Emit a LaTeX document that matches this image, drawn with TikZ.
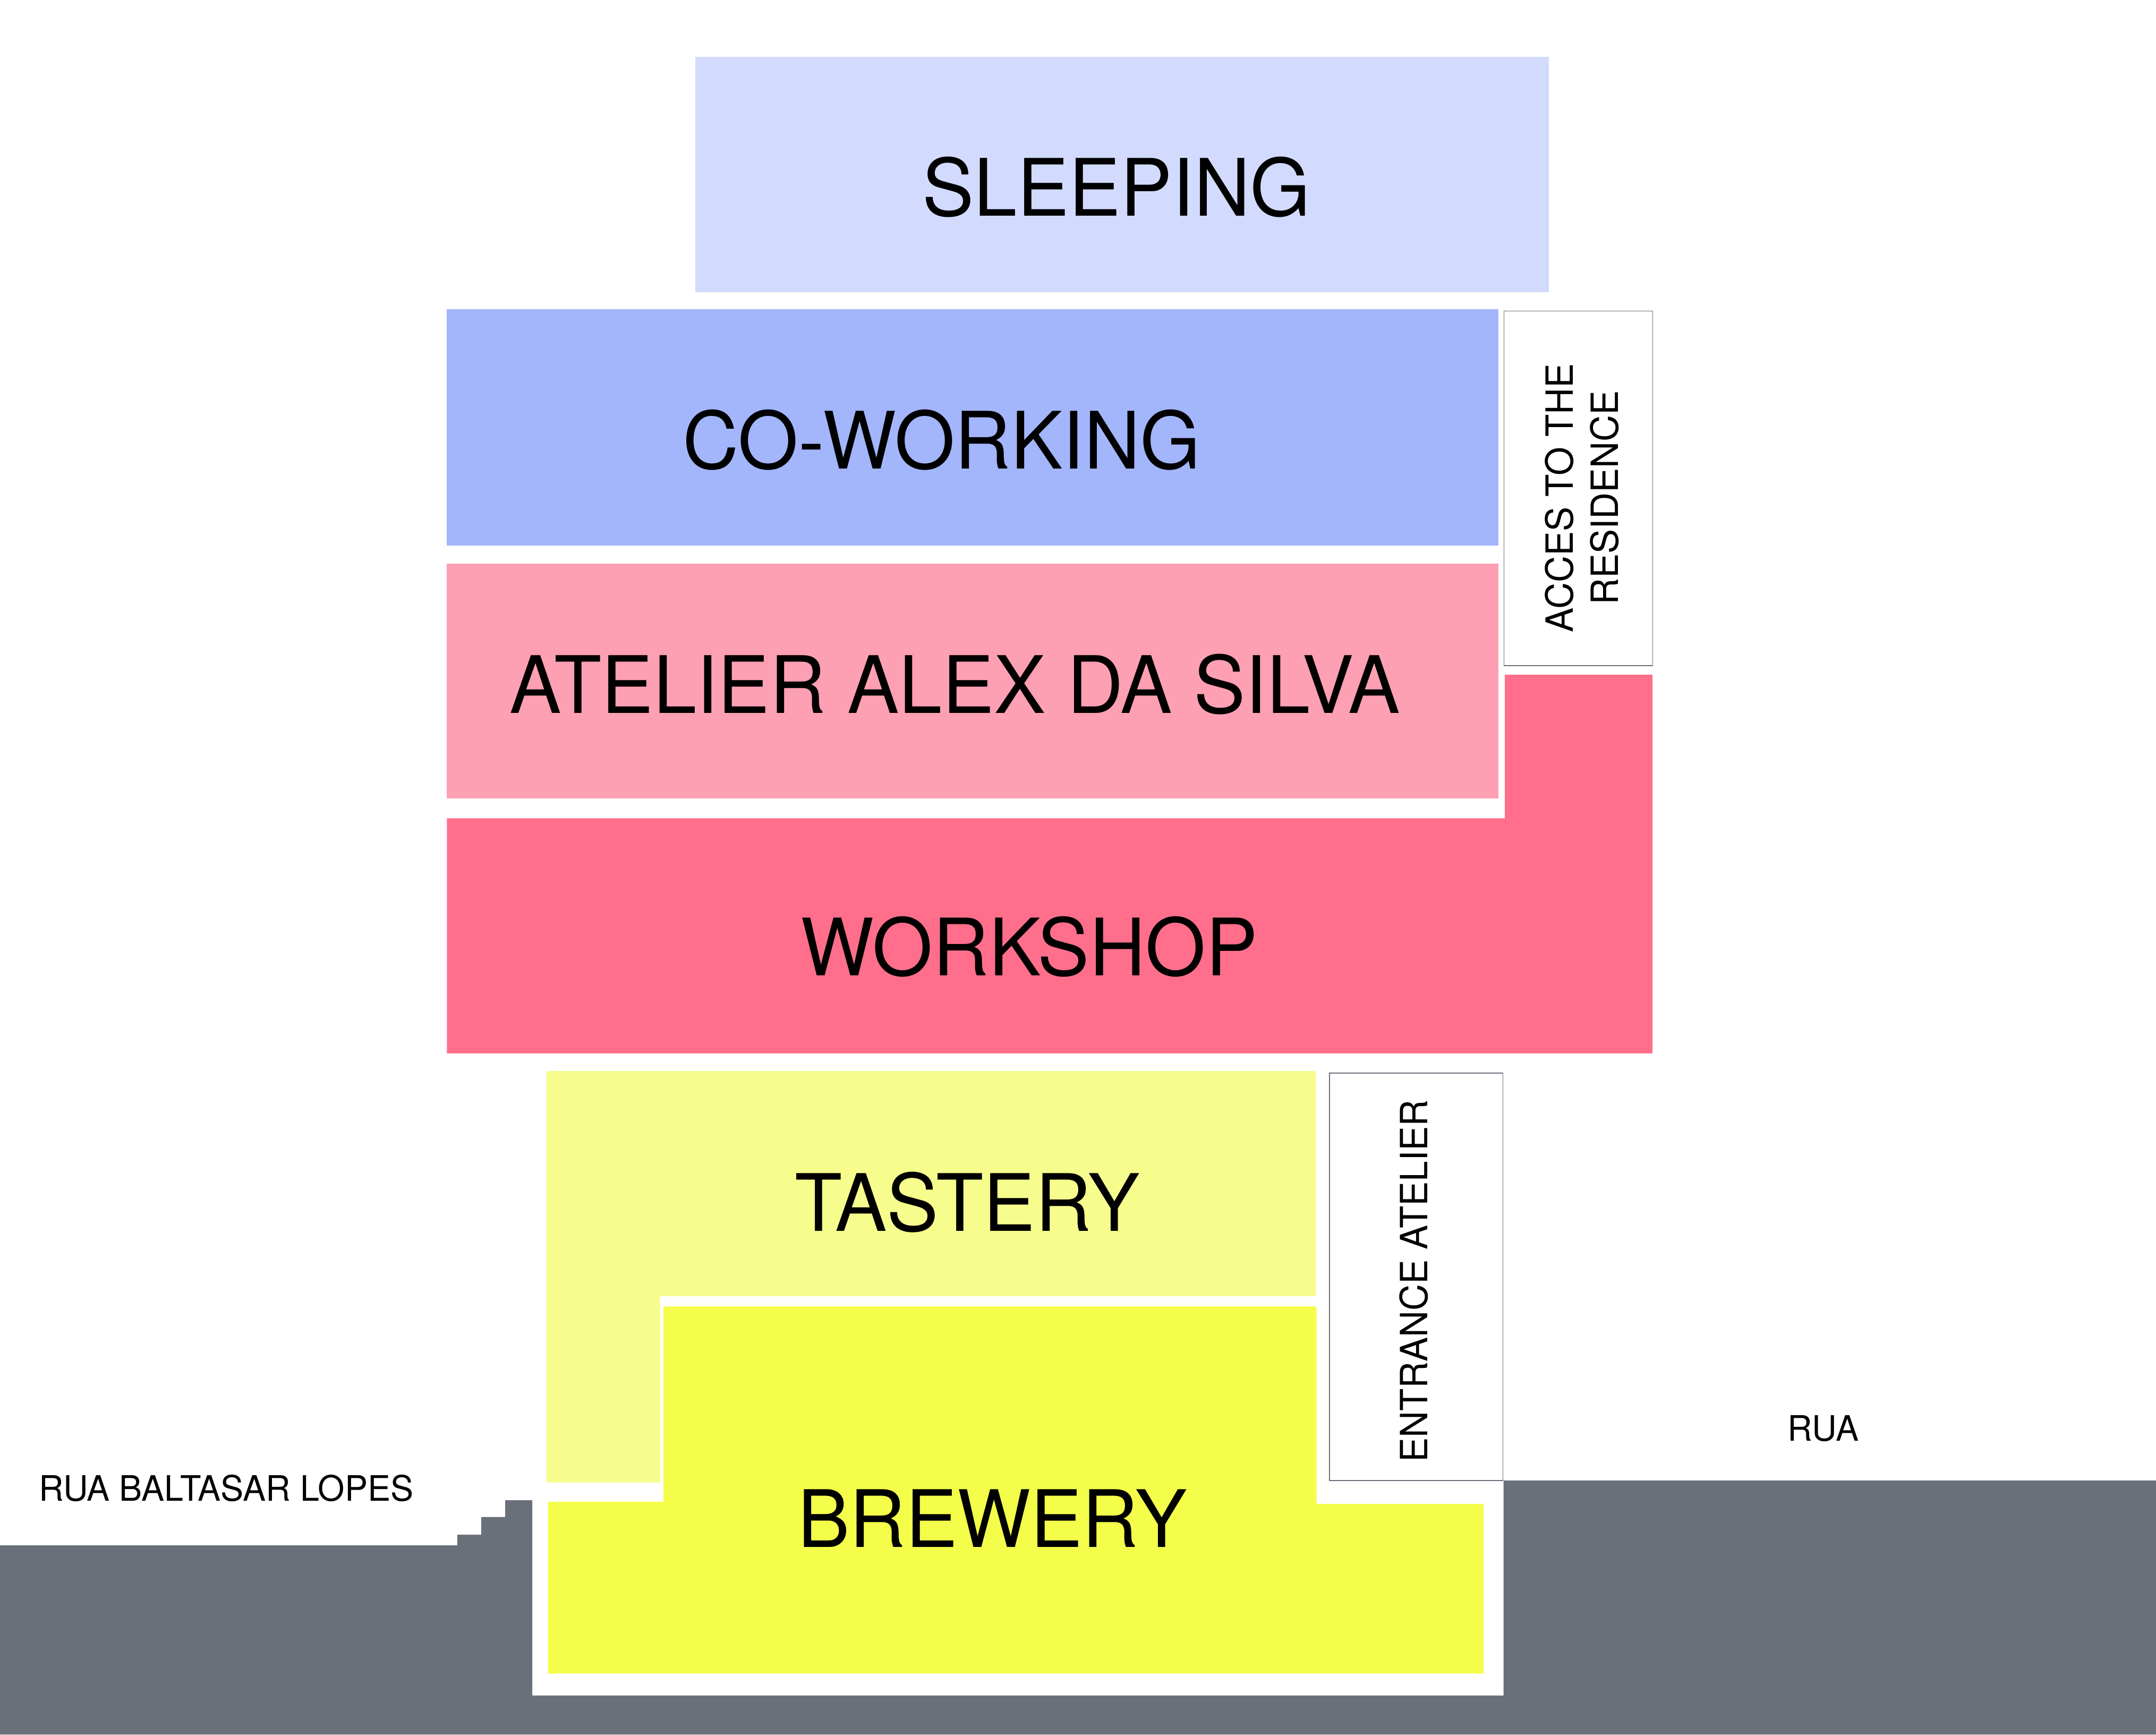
\documentclass[tikz,border=0pt]{standalone}
\usepackage{fontspec}
\usepackage{tikz}
\usetikzlibrary{positioning}

\newfontfamily\roomfont[FakeStretch=0.98]{TeX Gyre Heros}

\definecolor{sleepblue}{HTML}{D2DBFE}
\definecolor{workblue}{HTML}{A3B6FC}
\definecolor{atelierpink}{HTML}{FDA0B3}
\definecolor{shoppink}{HTML}{FF6F8C}
\definecolor{tasteyellow}{HTML}{F6FD8D}
\definecolor{brewyellow}{HTML}{F4FE4A}
\definecolor{groundgrey}{HTML}{6A707A}

\begin{document}
\begin{tikzpicture}[x=1pt,y=-1pt,
  sidebox/.style={draw=groundgrey,line width=0.6pt,fill=white},
  biglabel/.style={inner sep=0pt,anchor=base,font=\roomfont\fontsize{57.6}{69}\selectfont},
  streetlabel/.style={inner sep=0pt,anchor=base,font=\roomfont\fontsize{25.5}{30}\selectfont},
  sidelabel/.style={inner sep=0pt,rotate=90,align=center,font=\roomfont\fontsize{27.3}{33}\selectfont}]

\useasboundingbox (0,0) rectangle (1568,1261.3);

% ground and steps
\fill[groundgrey] (0,1123.7) -- (332.6,1123.7) -- (332.6,1116) -- (350,1116) -- (350,1103.1)
  -- (367.4,1103.1) -- (367.4,1090.9) -- (387.1,1090.9) -- (387.1,1232.9) -- (1093.5,1232.9)
  -- (1093.5,1076.6) -- (1568,1076.6) -- (1568,1261.3) -- (0,1261.3) -- cycle;

% rooms
\fill[sleepblue] (505.7,41.3) rectangle (1126.5,212.4);
\fill[workblue] (324.9,224.8) rectangle (1089.8,396.7);
\fill[atelierpink] (325,410) rectangle (1089.8,580.5);
\fill[shoppink] (1094.4,490.6) -- (1201.8,490.6) -- (1201.8,766) -- (325,766) -- (325,595)
  -- (1094.4,595) -- cycle;
\fill[tasteyellow] (397.3,778.8) -- (957,778.8) -- (957,942.5) -- (480,942.5) -- (480,1078)
  -- (397.3,1078) -- cycle;
\fill[brewyellow] (482.5,950) -- (957.5,950) -- (957.5,1093.6) -- (1079,1093.6) -- (1079,1217)
  -- (398.5,1217) -- (398.5,1092) -- (482.5,1092) -- cycle;

\draw[sidebox] (1093.8,226.1) rectangle (1202,484);
\draw[sidebox] (967,780.3) rectangle (1093,1076.6);

% labels
\node[biglabel] (sleeping) at (811.9,157.2) {SLEEPING};
\node[biglabel] (coworking) at (684.9,341) {CO-WORKING};
\node[biglabel] (atelier) at (694.5,518.6) {ATELIER ALEX DA SILVA};
\node[biglabel] (workshop) at (748.5,709.3) {WORKSHOP};
\node[biglabel] (tastery) at (703.5,895.4) {TASTERY};
\node[biglabel] (brewery) at (721.7,1125) {BREWERY};

\node[sidelabel,anchor=center] (acces) at (1150.4,362) {ACCES TO THE\\RESIDENCE};
\node[sidelabel,anchor=base] (entrance) at (1038,931.5) {ENTRANCE ATELIER};

\node[streetlabel,anchor=base west] (baltasar) at (28.2,1091.5) {RUA BALTASAR LOPES};
\node[streetlabel] (rua) at (1326,1048) {RUA};
\end{tikzpicture}
\end{document}
